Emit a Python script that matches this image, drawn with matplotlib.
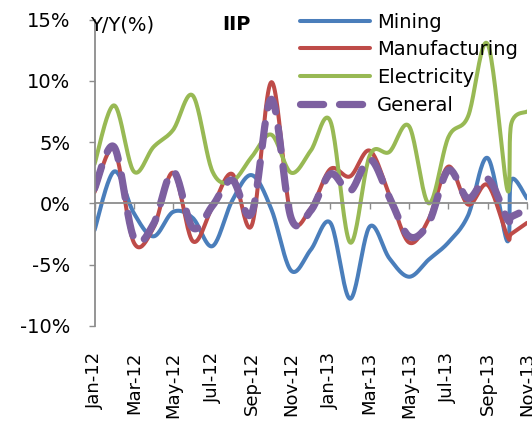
import matplotlib
matplotlib.use("Agg")
import matplotlib.pyplot as plt
import numpy as np

plt.rcParams["font.family"] = ["DejaVu Sans"]
plt.rcParams["axes.unicode_minus"] = False

# month index (Jan-12 = 0); an extra reading sits just after Oct-13
month_idx = [0, 1, 2, 3, 4, 5, 6, 7, 8, 9, 10, 11, 12, 13, 14, 15, 16, 17, 18, 19, 20, 21, 21.2, 22]
tick_labels = ["Jan-12", "Mar-12", "May-12", "Jul-12", "Sep-12", "Nov-12",
               "Jan-13", "Mar-13", "May-13", "Jul-13", "Sep-13", "Nov-13"]

mining = [-2.2, 2.6, -0.8, -2.7, -0.7, -1.2, -3.5, 0.2, 2.3, -0.5, -5.5, -3.8,
          -1.6, -7.8, -1.9, -4.5, -6.0, -4.6, -3.2, -1.0, 3.7, -3.1, 1.9, 0.4]
manufacturing = [0.9, 4.4, -3.2, -2.0, 2.5, -3.1, -0.3, 2.4, -1.8, 9.9, -1.1, -0.4,
                 2.8, 2.2, 4.3, 0.7, -3.2, -1.3, 3.0, -0.1, 1.5, -2.7, -2.5, -1.6]
electricity = [3.2, 8.0, 2.6, 4.6, 6.0, 8.8, 2.6, 1.8, 3.8, 5.6, 2.5, 4.3,
               6.7, -3.2, 3.9, 4.2, 6.3, 0.0, 5.4, 7.1, 13.0, 1.1, 6.5, 7.5]
general = [1.2, 4.6, -2.8, -1.7, 2.6, -2.0, -0.2, 1.9, -0.8, 8.5, -1.2, -0.6,
           2.4, 1.0, 3.6, 0.5, -2.7, -1.6, 2.7, 0.4, 2.0, -1.3, -1.1, -0.5]

yticks = [-10, -5, 0, 5, 10, 15]

GRAY = "#8c8c8c"


def smooth(x, y, n=24):
    """Excel-style smoothed line: cubic Bezier through points, 1/6 tangents."""
    p = np.column_stack([x, y]).astype(float)
    out = []
    t = np.linspace(0, 1, n)[:, None]
    for i in range(len(p) - 1):
        p0 = p[i - 1] if i > 0 else p[i]
        p1, p2 = p[i], p[i + 1]
        p3 = p[i + 2] if i + 2 < len(p) else p[i + 1]
        c1 = p1 + (p2 - p0) / 6
        c2 = p2 - (p3 - p1) / 6
        seg = ((1 - t) ** 3) * p1 + 3 * ((1 - t) ** 2) * t * c1 + 3 * (1 - t) * t ** 2 * c2 + t ** 3 * p2
        out.append(seg if i == 0 else seg[1:])
    s = np.vstack(out)
    return s[:, 0], s[:, 1]


fig = plt.figure(figsize=(5.32, 4.22), dpi=100)
ax = fig.add_axes([94.5 / 532, 1 - 325.7 / 422, 432.5 / 532, 306 / 422])

series = [("Mining", mining, "#4A7EBB"), ("Manufacturing", manufacturing, "#BE4B48"),
          ("Electricity", electricity, "#98B954")]
for name, vals, col in series:
    sx, sy = smooth(month_idx, vals)
    ax.plot(sx, sy, color=col, lw=2.9, label=name, solid_capstyle="round")
gx, gy = smooth(month_idx, general)
ax.plot(gx, gy, color="#7D60A0", lw=5.2, ls=(0, (3.2, 2.2)), dash_capstyle="round", label="General")

ax.set_xlim(0, 22)
ax.set_ylim(-10, 15)
ax.set_yticks(yticks, labels=[f"{v}%" for v in yticks])
ax.tick_params(axis="y", direction="out", length=4.3, width=1, color=GRAY, pad=13, labelsize=14)

for s in ("top", "right"):
    ax.spines[s].set_visible(False)
ax.spines["left"].set_color(GRAY)
ax.spines["left"].set_linewidth(1.3)
ax.spines["bottom"].set_position(("data", 0))
ax.spines["bottom"].set_color(GRAY)
ax.spines["bottom"].set_linewidth(1.3)
ax.set_xticks(range(0, 23, 2))
ax.tick_params(axis="x", direction="out", length=4, width=1, color=GRAY, labelbottom=False)

sec = ax.secondary_xaxis("bottom")
sec.set_xticks(range(0, 23, 2), labels=tick_labels)
sec.spines["bottom"].set_visible(False)
sec.tick_params(length=0, pad=19, labelsize=13, labelrotation=90)

fig.text(90 / 532, 1 - 25 / 422, "Y/Y(%)", fontsize=14, va="center", ha="left")
fig.text(236 / 532, 1 - 25 / 422, "IIP", fontsize=14, fontweight="bold", va="center", ha="center")

ax.legend(loc="upper left", bbox_to_anchor=(300 / 532, 1 - 12.5 / 422), bbox_transform=fig.transFigure,
          frameon=False, fontsize=14, handlelength=3.6, handletextpad=0.36, labelspacing=0.45,
          borderpad=0, borderaxespad=0)

fig.savefig("out.png", dpi=100)
